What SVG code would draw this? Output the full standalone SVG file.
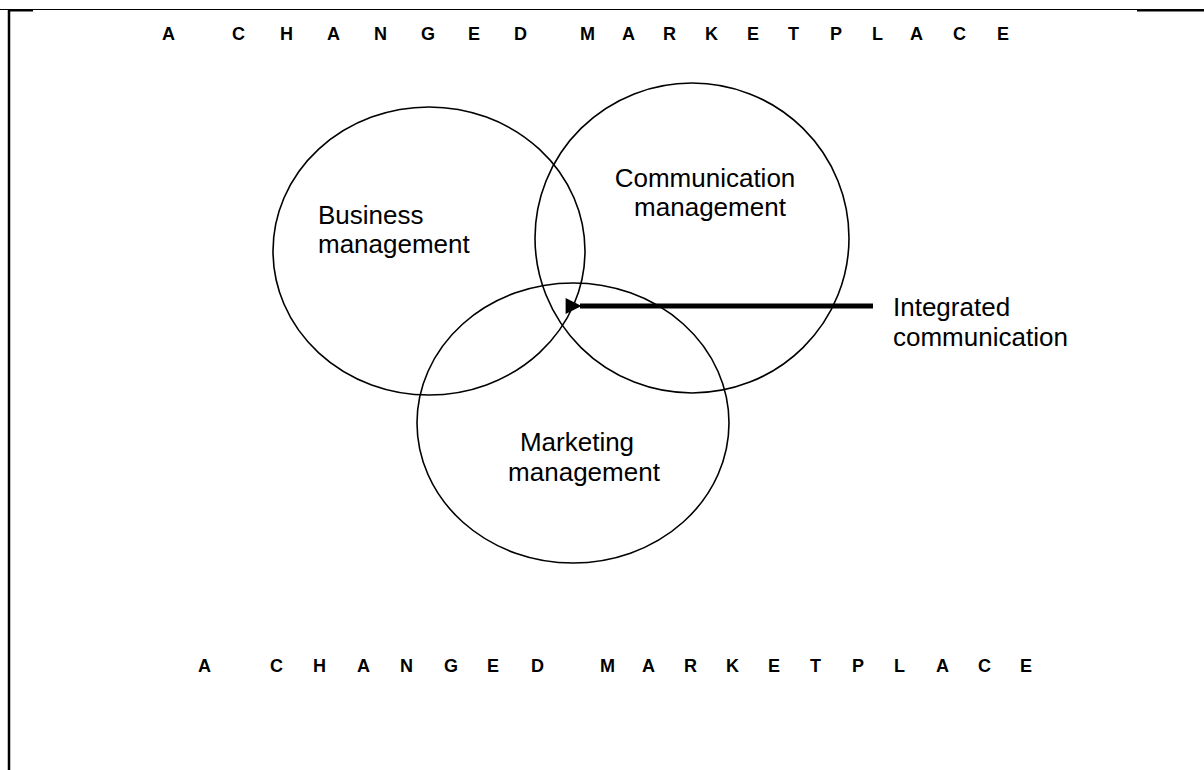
<svg xmlns="http://www.w3.org/2000/svg" width="1204" height="770" viewBox="0 0 1204 770">
<style>
.c{fill:none;stroke:#000;stroke-width:1.6}
.t{font-family:"Liberation Sans",Arial,sans-serif;font-size:26px;fill:#000}
.h{font-family:"Liberation Sans",Arial,sans-serif;font-size:18px;font-weight:bold;fill:#000}
</style>
<defs>
<marker id="ah" viewBox="0 0 10 10" refX="1" refY="5" markerWidth="3.6" markerHeight="3.2" orient="auto-start-reverse" markerUnits="strokeWidth">
<path d="M0,5 L10,0 L10,10 Z" fill="#000"/>
</marker>
</defs>
<rect width="1204" height="770" fill="#fff"/>
<g id="frame">
<line x1="0" y1="9.5" x2="1204" y2="9.5" stroke="#000" stroke-width="1"/>
<line x1="8" y1="10.5" x2="33" y2="10.5" stroke="#000" stroke-width="2"/>
<line x1="1137" y1="10.5" x2="1204" y2="10.5" stroke="#000" stroke-width="2"/>
<line x1="9" y1="10" x2="9" y2="770" stroke="#000" stroke-width="2.5"/>
</g>
<g id="title-top">
<text class="h" y="40"><tspan x="162">A</tspan><tspan x="232">C</tspan><tspan x="280">H</tspan><tspan x="327">A</tspan><tspan x="374">N</tspan><tspan x="421">G</tspan><tspan x="468">E</tspan><tspan x="514">D</tspan><tspan x="580">M</tspan><tspan x="622">A</tspan><tspan x="663">R</tspan><tspan x="705">K</tspan><tspan x="747">E</tspan><tspan x="788">T</tspan><tspan x="830">P</tspan><tspan x="872">L</tspan><tspan x="910">A</tspan><tspan x="953">C</tspan><tspan x="997">E</tspan></text>
</g>
<g id="business">
<ellipse class="c" cx="429" cy="251" rx="156" ry="144"/>
<text class="t" x="318" y="224">Business</text>
<text class="t" x="318" y="253">management</text>
</g>
<g id="communication">
<ellipse class="c" cx="692" cy="238" rx="157" ry="155"/>
<text class="t" x="705" y="187" text-anchor="middle">Communication</text>
<text class="t" x="710" y="216" text-anchor="middle">management</text>
</g>
<g id="marketing">
<ellipse class="c" cx="573" cy="423" rx="156" ry="140"/>
<text class="t" x="577" y="451" text-anchor="middle">Marketing</text>
<text class="t" x="584" y="481" text-anchor="middle">management</text>
</g>
<g id="integrated">
<text class="t" x="893" y="316">Integrated</text>
<text class="t" x="893" y="346">communication</text>
</g>
<g id="connectors">
<line x1="873" y1="306" x2="580" y2="306" stroke="#000" stroke-width="5" marker-end="url(#ah)"/>
</g>
<g id="title-bottom">
<text class="h" y="672"><tspan x="198">A</tspan><tspan x="270">C</tspan><tspan x="313">H</tspan><tspan x="357">A</tspan><tspan x="400">N</tspan><tspan x="444">G</tspan><tspan x="487">E</tspan><tspan x="531">D</tspan><tspan x="600">M</tspan><tspan x="642">A</tspan><tspan x="684">R</tspan><tspan x="726">K</tspan><tspan x="768">E</tspan><tspan x="810">T</tspan><tspan x="852">P</tspan><tspan x="894">L</tspan><tspan x="936">A</tspan><tspan x="978">C</tspan><tspan x="1020">E</tspan></text>
</g>
</svg>
